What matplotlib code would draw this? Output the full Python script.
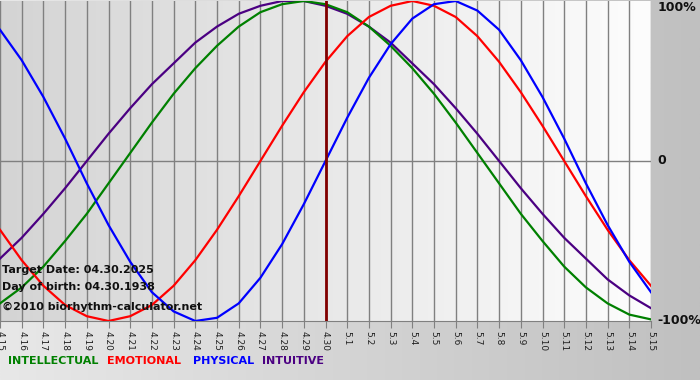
import numpy as np
import matplotlib
matplotlib.use('Agg')
import matplotlib.pyplot as plt

# Fechas (abril 15 -> mayo 15)
dias = ['4.15', '4.16', '4.17', '4.18', '4.19', '4.20', '4.21', '4.22', '4.23', '4.24',
        '4.25', '4.26', '4.27', '4.28', '4.29', '4.30', '5.1', '5.2', '5.3', '5.4',
        '5.5', '5.6', '5.7', '5.8', '5.9', '5.10', '5.11', '5.12', '5.13', '5.14', '5.15']

# Valores (en fracción de 100%)
intelectual = [-0.89, -0.79, -0.66, -0.50, -0.33, -0.14, 0.05, 0.24, 0.42, 0.58,
               0.72, 0.84, 0.93, 0.98, 1.00, 0.98, 0.93, 0.84, 0.72, 0.58,
               0.42, 0.24, 0.05, -0.14, -0.33, -0.50, -0.66, -0.79, -0.89, -0.96, -0.99]
emocional = [-0.43, -0.62, -0.78, -0.90, -0.97, -1.00, -0.97, -0.90, -0.78, -0.62,
             -0.43, -0.22, 0.00, 0.22, 0.43, 0.62, 0.78, 0.90, 0.97, 1.00,
             0.97, 0.90, 0.78, 0.62, 0.43, 0.22, 0.00, -0.22, -0.43, -0.62, -0.78]
fisico = [0.82, 0.63, 0.40, 0.14, -0.14, -0.40, -0.63, -0.82, -0.94, -1.00,
          -0.98, -0.89, -0.73, -0.52, -0.27, 0.00, 0.27, 0.52, 0.73, 0.89,
          0.98, 1.00, 0.94, 0.82, 0.63, 0.40, 0.14, -0.14, -0.40, -0.63, -0.82]
intuitivo = [-0.61, -0.48, -0.33, -0.17, 0.00, 0.17, 0.33, 0.48, 0.61, 0.74,
             0.84, 0.92, 0.97, 1.00, 1.00, 0.97, 0.92, 0.84, 0.74, 0.61,
             0.48, 0.33, 0.17, 0.00, -0.17, -0.33, -0.48, -0.61, -0.74, -0.84, -0.92]

dia_objetivo = '4.30'

colores = {'INTELLECTUAL': '#008000', 'EMOTIONAL': '#ff0000',
           'PHYSICAL': '#0000ff', 'INTUITIVE': '#4b0082'}

fig = plt.figure(figsize=(7, 3.8), dpi=100)

# Fondo general con degradado
fondo = fig.add_axes([0, 0, 1, 1], zorder=0)
grad = np.linspace(0, 1, 256).reshape(1, -1)
fondo.imshow(grad, aspect='auto', cmap=matplotlib.colors.LinearSegmentedColormap.from_list(
    'f', ['#e8e8e8', '#c0c0c0']), extent=[0, 1, 0, 1])
fondo.set_axis_off()

ax = fig.add_axes([0.0, (380 - 321) / 380, 651 / 700, 320 / 380], zorder=1)
x = np.arange(len(dias))
ax.imshow(grad, aspect='auto', cmap=matplotlib.colors.LinearSegmentedColormap.from_list(
    'p', ['#d4d4d4', '#fdfdfd']), extent=[0, 30, -1.0, 1.0], zorder=0)

# Rejilla
for xi in x:
    ax.axvline(xi, color='#808080', linewidth=1, zorder=1)
ax.axhline(0, color='#808080', linewidth=1, zorder=1)

# Curvas
ax.plot(x, intuitivo, color=colores['INTUITIVE'], linewidth=1.6, zorder=3)
ax.plot(x, intelectual, color=colores['INTELLECTUAL'], linewidth=1.6, zorder=3)
ax.plot(x, emocional, color=colores['EMOTIONAL'], linewidth=1.6, zorder=3)
ax.plot(x, fisico, color=colores['PHYSICAL'], linewidth=1.6, zorder=3)

# Línea de fecha objetivo
ax.axvline(dias.index(dia_objetivo), color='#800000', linewidth=2, zorder=4)

ax.set_xlim(0, 30)
ax.set_ylim(-1.0, 1.0)
ax.set_xticks(x)
ax.set_xticklabels(dias, rotation=-90, fontsize=6.5, color='#202020')
ax.tick_params(axis='x', length=5, color='#808080', pad=2)
ax.set_yticks([])
for s in ['top', 'left', 'right']:
    ax.spines[s].set_visible(False)
ax.spines['bottom'].set_color('#808080')

# Etiquetas de porcentaje
for val, txt in [(1.0, '100%'), (0.0, '0'), (-1.0, '-100%')]:
    ax.text(1.01, (val + 1) / 2, txt, transform=ax.transAxes, ha='left', va='center',
            fontsize=9, fontweight='bold', color='#101010')
ax.texts[0].set_va('top')

# Textos informativos
info = ['Target Date: 04.30.2025', 'Day of birth: 04.30.1938', '\u00a92010 biorhythm-calculator.net']
for t, yy in zip(info, [270, 287, 307]):
    fig.text(2 / 700, 1 - yy / 380, t, fontsize=8, fontweight='bold', color='#101010',
             va='center', ha='left', zorder=5)

# Leyenda
xpos = [8, 107, 193, 262]
for (nombre, c), xp in zip(colores.items(), xpos):
    fig.text(xp / 700, 1 - 361 / 380, nombre, color=c, fontsize=8, fontweight='bold',
             va='center', ha='left')

fig.savefig('out.png', dpi=100)
